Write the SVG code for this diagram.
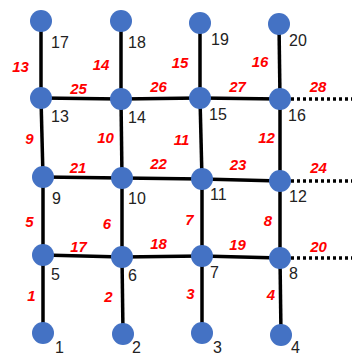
<svg xmlns="http://www.w3.org/2000/svg" width="352" height="356" viewBox="0 0 352 356">
<style>
.e{stroke:#000;stroke-width:3.5;fill:none}
.d{stroke:#000;stroke-width:3.5;fill:none;stroke-dasharray:3 3}
.n{fill:#4472C4}
.t{font-family:"Liberation Sans",Arial,sans-serif;font-size:16px;fill:#222}
.r{font-family:"Liberation Sans",Arial,sans-serif;font-size:15px;font-weight:bold;font-style:italic;fill:#FF0000;text-anchor:middle}
</style>
<rect width="352" height="356" fill="#fff"/>
<g id="connectors">
<line class="e" x1="41" y1="21" x2="41" y2="98"/>
<line class="e" x1="121" y1="21" x2="121" y2="99"/>
<line class="e" x1="200" y1="23" x2="200" y2="98"/>
<line class="e" x1="279" y1="24" x2="280" y2="99"/>
<line class="e" x1="41" y1="98" x2="43" y2="177"/>
<line class="e" x1="121" y1="99" x2="122" y2="178"/>
<line class="e" x1="200" y1="98" x2="202" y2="179"/>
<line class="e" x1="280" y1="99" x2="280" y2="181"/>
<line class="e" x1="43" y1="177" x2="43" y2="255"/>
<line class="e" x1="122" y1="178" x2="122" y2="257"/>
<line class="e" x1="202" y1="179" x2="202" y2="256"/>
<line class="e" x1="280" y1="181" x2="280" y2="258"/>
<line class="e" x1="43" y1="255" x2="43" y2="333"/>
<line class="e" x1="122" y1="257" x2="123" y2="334"/>
<line class="e" x1="202" y1="256" x2="202" y2="333"/>
<line class="e" x1="280" y1="258" x2="281" y2="335"/>
<line class="e" x1="41" y1="98" x2="121" y2="99"/>
<line class="e" x1="121" y1="99" x2="200" y2="98"/>
<line class="e" x1="200" y1="98" x2="280" y2="99"/>
<line class="e" x1="43" y1="177" x2="122" y2="178"/>
<line class="e" x1="122" y1="178" x2="202" y2="179"/>
<line class="e" x1="202" y1="179" x2="280" y2="181"/>
<line class="e" x1="43" y1="255" x2="122" y2="257"/>
<line class="e" x1="122" y1="257" x2="202" y2="256"/>
<line class="e" x1="202" y1="256" x2="280" y2="258"/>
<line class="d" x1="291" y1="99" x2="352" y2="99"/>
<line class="d" x1="291" y1="181" x2="352" y2="181"/>
<line class="d" x1="291" y1="258" x2="352" y2="258"/>
</g>
<g class="r">
<text x="20.5" y="72">13</text>
<text x="78.5" y="94">25</text>
<text x="101" y="70">14</text>
<text x="29.5" y="144">9</text>
<text x="105.5" y="143">10</text>
<text x="78" y="173">21</text>
<text x="158.5" y="92">26</text>
<text x="158.5" y="169">22</text>
<text x="180" y="68">15</text>
<text x="237.5" y="92">27</text>
<text x="260" y="67">16</text>
<text x="318" y="92">28</text>
<text x="181.5" y="145">11</text>
<text x="266.5" y="143">12</text>
<text x="238" y="170">23</text>
<text x="318.5" y="173">24</text>
<text x="29.5" y="227">5</text>
<text x="107" y="229">6</text>
<text x="78.5" y="252">17</text>
<text x="158.5" y="249">18</text>
<text x="189.5" y="225">7</text>
<text x="268" y="226">8</text>
<text x="237.5" y="250">19</text>
<text x="318.5" y="252">20</text>
<text x="31.5" y="301">1</text>
<text x="108.5" y="302">2</text>
<text x="190.5" y="299">3</text>
<text x="271" y="300">4</text>
</g>
<g id="n17"><circle class="n" cx="41" cy="21" r="11"/><text class="t" x="51" y="48">17</text></g>
<g id="n18"><circle class="n" cx="121" cy="21" r="11"/><text class="t" x="128" y="48">18</text></g>
<g id="n19"><circle class="n" cx="200" cy="23" r="11"/><text class="t" x="211" y="45">19</text></g>
<g id="n20"><circle class="n" cx="279" cy="24" r="11"/><text class="t" x="289" y="46">20</text></g>
<g id="n13"><circle class="n" cx="41" cy="98" r="11"/><text class="t" x="51" y="122">13</text></g>
<g id="n14"><circle class="n" cx="121" cy="99" r="11"/><text class="t" x="128" y="123">14</text></g>
<g id="n15"><circle class="n" cx="200" cy="98" r="11"/><text class="t" x="209" y="120">15</text></g>
<g id="n16"><circle class="n" cx="280" cy="99" r="11"/><text class="t" x="288" y="121">16</text></g>
<g id="n9"><circle class="n" cx="43" cy="177" r="11"/><text class="t" x="52" y="204">9</text></g>
<g id="n10"><circle class="n" cx="122" cy="178" r="11"/><text class="t" x="128" y="204">10</text></g>
<g id="n11"><circle class="n" cx="202" cy="179" r="11"/><text class="t" x="210" y="200">11</text></g>
<g id="n12"><circle class="n" cx="280" cy="181" r="11"/><text class="t" x="289" y="202">12</text></g>
<g id="n5"><circle class="n" cx="43" cy="255" r="11"/><text class="t" x="51" y="280">5</text></g>
<g id="n6"><circle class="n" cx="122" cy="257" r="11"/><text class="t" x="128" y="281">6</text></g>
<g id="n7"><circle class="n" cx="202" cy="256" r="11"/><text class="t" x="210" y="278">7</text></g>
<g id="n8"><circle class="n" cx="280" cy="258" r="11"/><text class="t" x="289" y="279">8</text></g>
<g id="n1"><circle class="n" cx="43" cy="333" r="11"/><text class="t" x="55" y="353">1</text></g>
<g id="n2"><circle class="n" cx="123" cy="334" r="11"/><text class="t" x="132" y="353">2</text></g>
<g id="n3"><circle class="n" cx="202" cy="333" r="11"/><text class="t" x="213" y="353">3</text></g>
<g id="n4"><circle class="n" cx="281" cy="335" r="11"/><text class="t" x="291" y="353">4</text></g>
</svg>
